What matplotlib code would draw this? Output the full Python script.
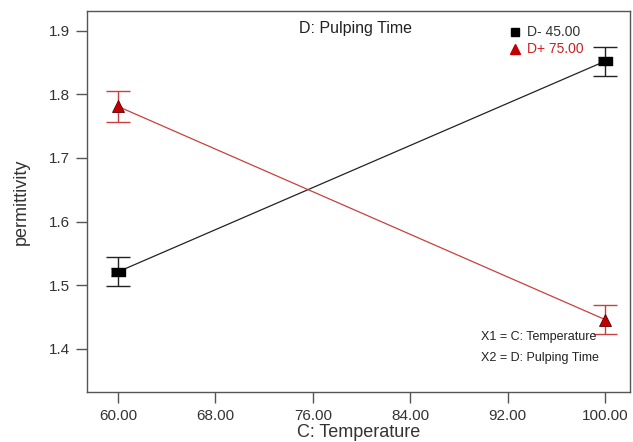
import numpy as np
import matplotlib.pyplot as plt

plt.rcParams['font.family'] = ['Liberation Sans', 'DejaVu Sans']

# data
temperature = [60, 100]
d_low = [1.521, 1.852]        # D- 45.00
d_low_err = [0.023, 0.023]
d_high = [1.781, 1.446]       # D+ 75.00
d_high_err = [0.024, 0.023]
xticks = [60, 68, 76, 84, 92, 100]
yticks = [1.4, 1.5, 1.6, 1.7, 1.8, 1.9]

red = '#cc2020'
red_line = '#c84040'

fig = plt.figure(figsize=(6.33, 4.42), dpi=100)
ax = fig.add_axes([0.1374, 0.1131, 0.8576, 0.8619])

ax.plot(temperature, d_low, color='#222222', lw=0.9, zorder=2)
ax.errorbar(temperature, d_low, yerr=d_low_err, fmt='none', ecolor='#222222',
            elinewidth=1.0, capsize=8.5, capthick=1.0, zorder=3)
ax.plot(temperature, d_low, ls='none', marker=[(-1.2, -0.7), (1.2, -0.7), (1.2, 0.7), (-1.2, 0.7)],
        ms=10, color='black', zorder=4)

ax.plot(temperature, d_high, color=red_line, lw=0.9, zorder=2)
ax.errorbar(temperature, d_high, yerr=d_high_err, fmt='none', ecolor=red_line,
            elinewidth=1.0, capsize=8.5, capthick=1.0, zorder=3)
ax.plot(temperature, d_high, ls='none', marker='^', ms=8, color='#c00000',
        markeredgecolor='#600000', markeredgewidth=0.6, zorder=4)

ax.set_xlim(57.45, 102.05)
ax.set_ylim(1.332, 1.931)
ax.set_xticks(xticks)
ax.set_xticklabels(['%.2f' % t for t in xticks])
ax.set_yticks(yticks)
ax.set_yticklabels(['%.1f' % t for t in yticks])
ax.tick_params(direction='out', length=8, width=1.0, colors='#555555',
               labelcolor='#333333', labelsize=11, pad=4)
for s in ax.spines.values():
    s.set_color('#555555')
    s.set_linewidth(1.0)

ax.set_xlabel('C: Temperature', fontsize=13, color='#333333', labelpad=1)
ax.set_ylabel('permittivity', fontsize=13, color='#333333', labelpad=14)

ax.text(0.495, 0.955, 'D: Pulping Time', transform=ax.transAxes, ha='center',
        va='center', fontsize=11.5, color='#222222')

# legend drawn by hand
ax.plot([0.788], [0.945], transform=ax.transAxes, marker='s', ms=6, color='black',
        ls='none', clip_on=False)
ax.text(0.81, 0.945, 'D- 45.00', transform=ax.transAxes, va='center',
        fontsize=10, color='#333333')
ax.plot([0.788], [0.90], transform=ax.transAxes, marker='^', ms=6.5, color='#c00000',
        ls='none', clip_on=False)
ax.text(0.81, 0.90, 'D+ 75.00', transform=ax.transAxes, va='center',
        fontsize=10, color=red)

ax.text(0.725, 0.145, 'X1 = C: Temperature', transform=ax.transAxes, va='center',
        fontsize=9, color='#222222')
ax.text(0.725, 0.09, 'X2 = D: Pulping Time', transform=ax.transAxes, va='center',
        fontsize=9, color='#222222')

fig.savefig('out.png', dpi=100)
